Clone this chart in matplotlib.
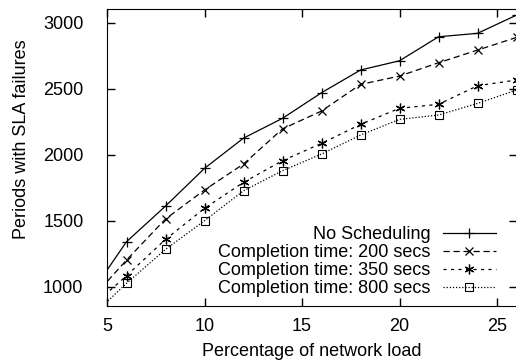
import matplotlib
matplotlib.use('Agg')
import matplotlib.pyplot as plt

plt.rcParams['font.family'] = ['Liberation Sans', 'DejaVu Sans']
plt.rcParams['font.size'] = 13

# network load (%) -- first point lies left of the visible range
load = [4, 6, 8, 10, 12, 14, 16, 18, 20, 22, 24, 26]

no_sched = [911, 1341, 1611, 1897, 2126, 2276, 2470, 2642, 2712, 2894, 2920, 3058]
ct_200 = [874, 1202, 1513, 1733, 1930, 2196, 2331, 2533, 2596, 2697, 2793, 2889]
ct_350 = [821, 1083, 1359, 1594, 1791, 1955, 2086, 2230, 2352, 2382, 2523, 2566]
ct_800 = [746, 1026, 1283, 1500, 1727, 1879, 2005, 2149, 2268, 2301, 2389, 2490]

labels = ['No Scheduling', 'Completion time: 200 secs',
          'Completion time: 350 secs', 'Completion time: 800 secs']

fig = plt.figure(figsize=(5.16, 3.62), dpi=100)
ax = fig.add_axes([0.2074, 0.1555, 0.7936, 0.8195])

ax.plot(load, no_sched, color='k', lw=0.9, ls='-', marker='+', ms=7, mew=0.9, label=labels[0])
ax.plot(load, ct_200, color='k', lw=0.9, ls=(0, (5, 3)), marker='x', ms=6, mew=0.9, label=labels[1])
ax.plot(load, ct_350, color='k', lw=0.9, ls=(0, (2.5, 3.5)), marker=(6, 2, 0), ms=7, mew=0.9, label=labels[2])
ax.plot(load, ct_800, color='k', lw=0.9, ls=(0, (1, 1.5)), marker='s', ms=6, mew=0.8,
        mfc='none', label=labels[3])

ax.set_xlim(5, 26)
ax.set_ylim(856, 3104)
ax.set_xticks([5, 10, 15, 20, 25])
ax.set_yticks([1000, 1500, 2000, 2500, 3000])
ax.tick_params(direction='in', top=True, right=True, length=5.5, width=1.0)
ax.tick_params(axis='x', pad=9)
ax.tick_params(axis='y', pad=17)

ax.set_xlabel('Percentage of network load')
ax.set_ylabel('Periods with SLA failures')
ax.xaxis.set_label_coords(0.5, -0.125)
ax.yaxis.set_label_coords(-0.188, 0.56)

ax.legend(loc='lower right', bbox_to_anchor=(0.949, 0.029), frameon=False, markerfirst=False,
          handlelength=2.9, labelspacing=0.05, handletextpad=0.7, borderaxespad=0, borderpad=0)

fig.savefig('out.png', dpi=100)
